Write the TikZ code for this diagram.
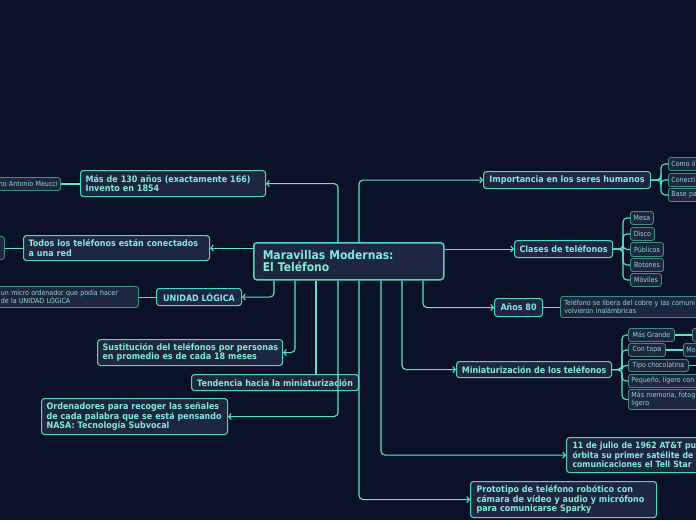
\documentclass[tikz,border=0pt]{standalone}
\usepackage{fontspec}
\setmainfont{DejaVu Sans}[FakeStretch=0.9]
\usetikzlibrary{arrows.meta}
\definecolor{bg}{HTML}{0B1128}
\definecolor{boxf}{HTML}{1E2642}
\definecolor{bord}{HTML}{4FD6C8}
\definecolor{lin}{HTML}{5EE3D3}
\definecolor{txt}{HTML}{80EADF}
\definecolor{subbord}{HTML}{3A8E8C}
\definecolor{subtxt}{HTML}{92D6CF}
\newcommand{\nb}[1]{\mbox{#1}}
\tikzset{
 mainbox/.style={draw=bord, fill=boxf, rounded corners=3pt, line width=1.1pt, text=txt,
   font=\bfseries\fontsize{8.9}{9.6}\selectfont, inner xsep=5pt, inner ysep=0pt, anchor=north west},
 leftbox/.style={mainbox, align=left},
 subbox/.style={draw=subbord, fill=boxf, rounded corners=2.5pt, line width=0.9pt, text=subtxt,
   font=\fontsize{7}{8.4}\selectfont, inner xsep=3pt, inner ysep=0pt, anchor=north west},
 conn/.style={draw=lin, line width=1.1pt, rounded corners=4pt},
 arr/.style={conn, -{Straight Barb[length=2.5pt,width=6pt]}},
}
\begin{document}
\begin{tikzpicture}[x=1pt,y=-1pt]
\clip (0,0) rectangle (696,520);
\fill[bg] (0,0) rectangle (696,520);

% column coordinates
\foreach \nm/\xx in {t274/274,t295/295,t316/316,t338/338,t359/359,t381/381,t402/402,t423/423,bimp/661,bcls/623,bmin/622}
  \coordinate (\nm) at (\xx,0);
\coordinate (edgeR) at (700,365);

% central node
\node[leftbox, line width=1.5pt, font=\bfseries\fontsize{12}{12.5}\selectfont, text width=172pt,
  inner xsep=9pt, minimum height=37pt] (c) at (253,242) {Maravillas Modernas:\\El Teléfono};

% left branches
\node[leftbox, text width=175pt, minimum height=26pt] (mas) at (80,170)
  {\nb{Más de 130 años (exactamente 166)}\\Invento en 1854};
\node[leftbox, text width=176pt, minimum height=25pt] (todos) at (23,235)
  {\nb{Todos los teléfonos están conectados}\\a una red};
\node[mainbox, minimum width=85pt, minimum height=17pt] (unidad) at (156,288) {UNIDAD LÓGICA};
\node[leftbox, text width=175pt, minimum height=26pt] (sust) at (97,339)
  {\nb{Sustitución del teléfonos por personas}\\\nb{en promedio es de cada 18 meses}};
\node[mainbox, minimum width=167pt, minimum height=16pt] (tend) at (191,374) {Tendencia hacia la miniaturización};
\node[leftbox, text width=176pt, minimum height=36pt] (ord) at (41,398)
  {\nb{Ordenadores para recoger las señales}\\\nb{de cada palabra que se está pensando}\\\nb{NASA: Tecnología Subvocal}};

% right branches
\node[mainbox, minimum width=167pt, minimum height=17pt] (imp) at (483,171) {Importancia en los seres humanos};
\node[mainbox, minimum width=98pt, minimum height=17pt] (clases) at (514,240) {Clases de teléfonos};
\node[mainbox, minimum width=48pt, minimum height=18pt] (anos) at (494,298) {Años 80};
\node[mainbox, minimum width=155pt, minimum height=16pt] (mini) at (456,361) {Miniaturización de los teléfonos};
\node[leftbox, text width=200pt, minimum height=35pt, inner xsep=6pt, font=\bfseries\fontsize{8.6}{9.6}\selectfont] (julio) at (566,437)
  {\nb{11 de julio de 1962 AT\&T pu}\\\nb{órbita su primer satélite de}\\\nb{comunicaciones el Tell Star}};
\node[leftbox, text width=174pt, minimum height=36pt, inner xsep=6pt] (proto) at (470,481)
  {\nb{Prototipo de teléfono robótico con}\\\nb{cámara de vídeo y audio y micrófono}\\\nb{para comunicarse Sparky}};

% small sub-items, left
\node[subbox, align=right, anchor=north east, text width=62pt, minimum height=13pt] (meucci) at (61,177) {no Antonio Meucci};
\node[subbox, minimum width=20pt, minimum height=23pt] (redsub) at (-16,236) {};
\node[subbox, align=left, text width=131pt, inner xsep=6.5pt, minimum height=21pt] (micro) at (-6,286)
  {un micro ordenador que podía hacer\\de la UNIDAD LÓGICA};

% small sub-items, right
\node[subbox, align=left, text width=60pt, minimum height=13pt] (imp1) at (668,157) {Como lí};
\node[subbox, align=left, text width=60pt, minimum height=13pt] (imp2) at (668,173) {Conecti};
\node[subbox, align=left, text width=60pt, minimum height=13pt] (imp3) at (668,188) {Base pa};

\node[subbox, minimum width=23pt, minimum height=13pt] (mesa) at (630,211) {Mesa};
\node[subbox, minimum width=24pt, minimum height=13pt] (disco) at (630,227) {Disco};
\node[subbox, minimum width=33pt, minimum height=14pt] (publ) at (630,242) {Públicos};
\node[subbox, minimum width=33pt, minimum height=13pt] (boton) at (630,258) {Botones};
\node[subbox, minimum width=31pt, minimum height=13pt] (movil) at (630,273) {Móviles};

\node[subbox, align=left, text width=150pt, inner xsep=4pt, minimum height=21pt] (anosub) at (560,296)
  {\nb{Teléfono se libera del cobre y las comuni}\\volvieron inalámbricas};

\node[subbox, minimum width=46pt, minimum height=13pt] (mg) at (628,328) {Más Grande};
\node[subbox, minimum width=37pt, minimum height=13pt] (ct) at (628,343) {Con tapa};
\node[subbox, minimum width=60pt, minimum height=12pt] (tc) at (628,359) {Tipo chocolatina};
\node[subbox, align=left, text width=100pt, minimum height=13pt] (pl) at (628,374) {Pequeño, ligero con};
\node[subbox, align=left, text width=100pt, minimum height=20pt] (mm) at (628,389) {Más memoria, fotog\\ligero};
\node[subbox, minimum width=20pt, minimum height=13pt] (mg1) at (692,328) {};
\node[subbox, align=left, text width=30pt, minimum height=13pt] (ct1) at (683,343) {Mo};

% connectors from centre
\draw[arr] (c.north -| t338) |- (mas.east);
\draw[arr] (c.west |- todos.east) -- (todos.east);
\draw[arr] (c.south -| t274) |- (unidad.east);
\draw[arr] (c.south -| t295) |- (sust.east);
\draw[conn] (c.south -| t316) -- (tend.north -| t316);
\draw[arr] (c.south -| t338) |- (ord.east);
\draw[arr] (c.north -| t359) |- (imp.west);
\draw[arr] (c.east |- clases.west) -- (clases.west);
\draw[arr] (c.south -| t423) |- (anos.west);
\draw[arr] (c.south -| t402) |- (mini.west);
\draw[arr] (c.south -| t381) |- (julio.west);
\draw[arr] (c.south -| t359) |- (proto.west);

% sub connectors
\draw[conn] (meucci.east) -- (meucci.east -| mas.west);
\draw[conn] (redsub.east |- todos.west) -- (todos.west);
\draw[conn] (micro.east |- unidad.west) -- (unidad.west);
\draw[conn] (anos.east) -- (anos.east -| anosub.west);
\foreach \n in {imp1,imp2,imp3}
  \draw[conn] (imp.east) -- (imp.east -| bimp) |- (\n.west);
\foreach \n in {mesa,disco,publ,boton,movil}
  \draw[conn] (clases.east) -- (clases.east -| bcls) |- (\n.west);
\foreach \n in {mg,ct,tc,pl,mm}
  \draw[conn] (mini.east) -- (mini.east -| bmin) |- (\n.west);
\draw[conn] (mg.east) -- (mg.east -| mg1.west);
\draw[conn] (ct.east) -- (ct.east -| ct1.west);
\draw[conn] (tc.east) -- (tc.east -| edgeR);
\end{tikzpicture}
\end{document}
